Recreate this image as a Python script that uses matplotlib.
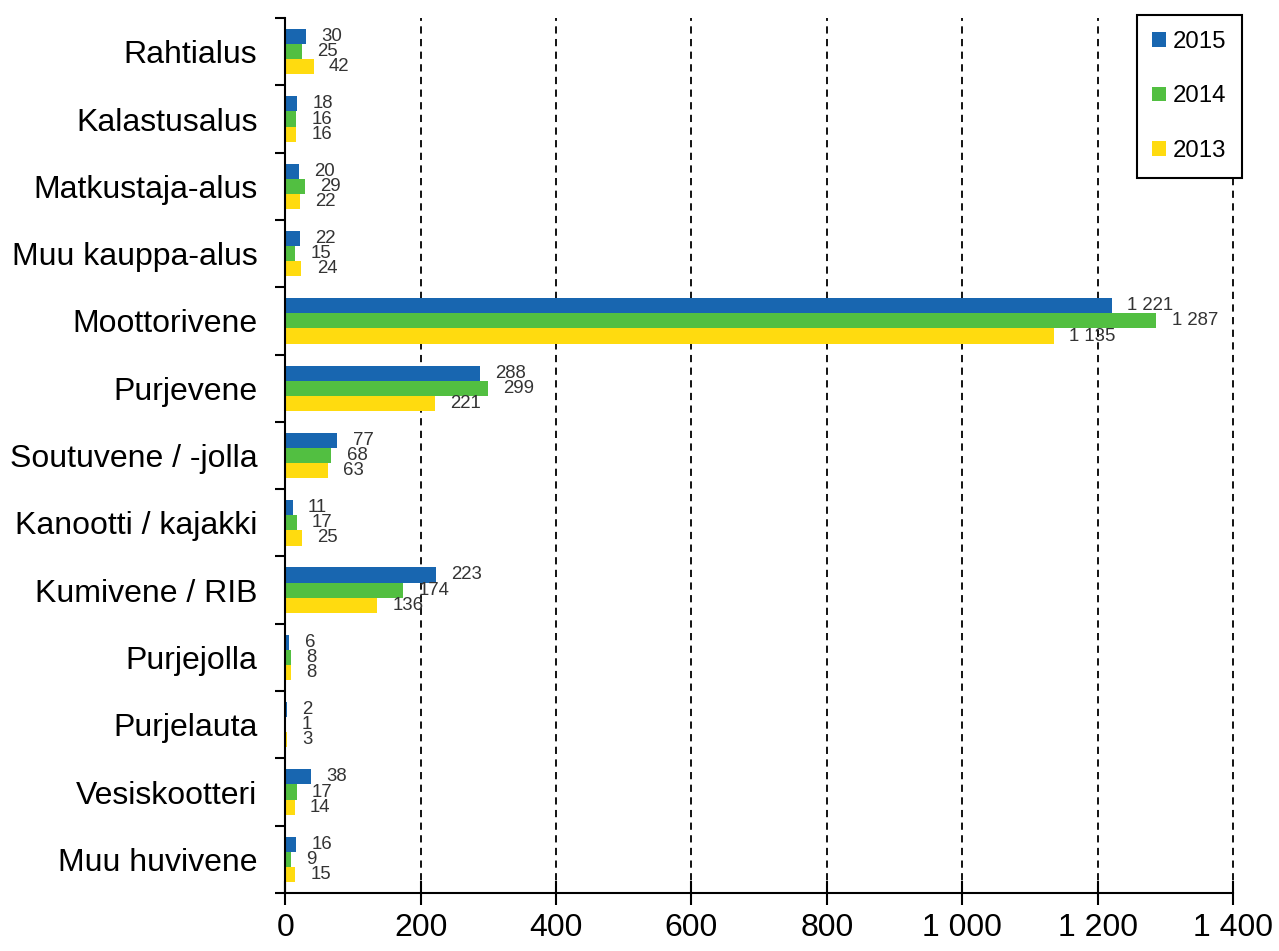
import matplotlib
matplotlib.use("Agg")
import matplotlib.pyplot as plt
import numpy as np
from matplotlib.ticker import FixedLocator, FuncFormatter

categories = ["Rahtialus", "Kalastusalus", "Matkustaja-alus", "Muu kauppa-alus",
              "Moottorivene", "Purjevene", "Soutuvene / -jolla", "Kanootti / kajakki",
              "Kumivene / RIB", "Purjejolla", "Purjelauta", "Vesiskootteri", "Muu huvivene"]
v2015 = [30, 18, 20, 22, 1221, 288, 77, 11, 223, 6, 2, 38, 16]
v2014 = [25, 16, 29, 15, 1287, 299, 68, 17, 174, 8, 1, 17, 9]
v2013 = [42, 16, 22, 24, 1135, 221, 63, 25, 136, 8, 3, 14, 15]
series = [("2015", v2015, "#1866B0"), ("2014", v2014, "#52BF41"), ("2013", v2013, "#FFDB0F")]
xticks = [0, 200, 400, 600, 800, 1000, 1200, 1400]

plt.rcParams['font.family'] = ['Liberation Sans', 'DejaVu Sans']

fig = plt.figure(figsize=(12.79, 9.51), dpi=100)
ax = fig.add_axes([0.223, 0.061, 0.741, 0.920])

n = len(categories)
y = np.arange(n)
bh = 0.225
offsets = [-bh, 0, bh]

def fmt(v):
    return f"{v:,}".replace(",", " ")

for (name, vals, col), off in zip(series, offsets):
    ax.barh(y + off, vals, height=bh, color=col, label=name, zorder=3)
    for yi, v in zip(y, vals):
        ax.annotate(fmt(v), xy=(v, yi + off), xytext=(11, 0), textcoords='offset points',
                    va='center', ha='left', fontsize=13.4, color='#333333', zorder=4)

ax.set_ylim(n - 0.5, -0.5)
ax.set_xlim(0, 1400)
ax.set_yticks(y)
ax.set_yticklabels(categories, fontsize=23)
ax.tick_params(axis='y', which='major', length=0, pad=20)
ax.yaxis.set_minor_locator(FixedLocator(np.arange(-0.5, n, 1.0)))
ax.tick_params(axis='y', which='minor', length=7.5, width=1.5, direction='out')

ax.set_xticks(xticks)
ax.xaxis.set_major_formatter(FuncFormatter(lambda v, p: fmt(int(v))))
ax.tick_params(axis='x', which='major', labelsize=23, length=17, width=1.5, direction='inout', pad=6)

ax.grid(axis='x', color='black', linestyle=(0, (4, 3)), linewidth=1.3, zorder=1)
for gl in ax.get_xgridlines():
    gl.set_clip_on(False)
for s in ['top', 'right']:
    ax.spines[s].set_visible(False)
for s in ['left', 'bottom']:
    ax.spines[s].set_linewidth(1.5)
    ax.spines[s].set_zorder(5)

leg = ax.legend(loc='upper right', bbox_to_anchor=(1.0095, 1.003), fontsize=17.3, frameon=True,
                fancybox=False, edgecolor='black', handlelength=0.55, handleheight=0.55,
                labelspacing=1.35, borderpad=0.65, handletextpad=0.3, borderaxespad=0,
                framealpha=1)
leg.get_frame().set_linewidth(1.5)
leg.set_zorder(6)

fig.savefig("out.png", dpi=100)
